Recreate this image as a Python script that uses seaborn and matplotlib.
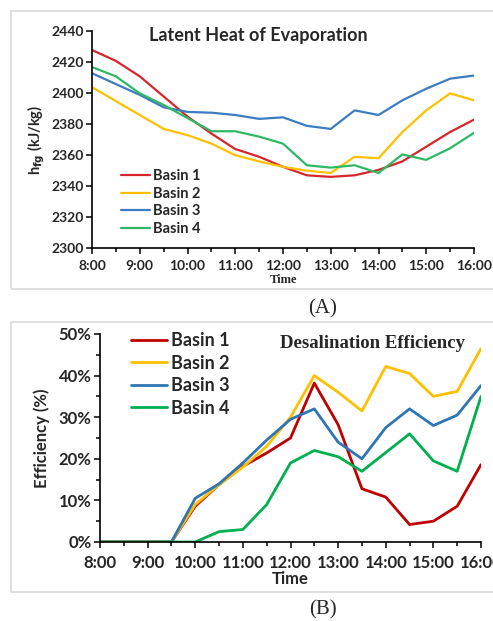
"""Latent heat of evaporation and desalination efficiency of four basins."""
import matplotlib
matplotlib.use("Agg")
import matplotlib.pyplot as plt
import matplotlib.ticker as mticker
from matplotlib.patches import Rectangle
import pandas as pd
import seaborn as sns

# half-hour readings, 8:00 .. 16:00
hours = [8 + 0.5 * i for i in range(17)]
basins = ["Basin 1", "Basin 2", "Basin 3", "Basin 4"]

hfg_b1 = [2428, 2421, 2411, 2398, 2385, 2374, 2364, 2359, 2352.5, 2347, 2346, 2347, 2350.5, 2356, 2365.5, 2375, 2383]
hfg_b2 = [2404, 2395, 2386, 2377, 2373, 2367.5, 2360, 2356, 2352.5, 2350, 2348.5, 2359, 2358, 2375, 2389, 2400, 2395.5]
hfg_b3 = [2413, 2406, 2399, 2391, 2388, 2387.5, 2386, 2383.5, 2384.5, 2379, 2377, 2389, 2386, 2395.5, 2403, 2409.5, 2411.5]
hfg_b4 = [2417, 2411, 2400, 2392.5, 2384, 2375.5, 2375.5, 2372, 2367.5, 2353.5, 2352, 2353.5, 2348.5, 2360.5, 2357, 2364.5, 2374.5]

eff_b1 = [0, 0, 0, 0, 8.6, 13.8, 18.2, 21.4, 25, 38.2, 28.2, 12.8, 10.8, 4.2, 5, 8.6, 18.6]
eff_b2 = [0, 0, 0, 0, 9, 13.8, 18, 23, 30, 40, 36, 31.5, 42.2, 40.5, 35, 36.2, 46.5]
eff_b3 = [0, 0, 0, 0, 10.5, 14, 19, 24.5, 29.5, 32, 24, 20, 27.5, 32, 28, 30.5, 37.6]
eff_b4 = [0, 0, 0, 0, 0, 2.5, 3, 9, 19, 22, 20.5, 17, 21.5, 26, 19.5, 17, 35]

hour_ticks = list(range(8, 17))
hour_labels = [f"{h}:00" for h in hour_ticks]

sns.set_theme(style="ticks")
plt.rcParams["font.family"] = ["Lato", "DejaVu Sans"]


def _long(series):
    rows = []
    for name, vals in zip(basins, series):
        rows += [{"hour": h, "value": v, "basin": name} for h, v in zip(hours, vals)]
    return pd.DataFrame(rows)


def _style_axes(ax, tick_size):
    sns.despine(ax=ax)
    for s in ("left", "bottom"):
        ax.spines[s].set_color("black")
        ax.spines[s].set_linewidth(1.2)
    ax.set_xlim(8, 16)
    ax.set_xticks(hour_ticks)
    ax.set_xticklabels(hour_labels)
    ax.xaxis.set_minor_locator(mticker.MultipleLocator(0.5))
    ax.tick_params(axis="both", which="both", direction="out", color="black", width=1.1)
    ax.tick_params(axis="both", which="major", length=4, labelsize=tick_size, pad=2)
    ax.tick_params(axis="x", which="major", pad=5)
    ax.tick_params(axis="both", which="minor", length=3)
    for lab in ax.get_xticklabels() + ax.get_yticklabels():
        lab.set_fontweight("bold")
    ax.set_facecolor("white")
    ax.grid(False)


fig = plt.figure(figsize=(4.93, 6.21), dpi=100)
W, H = 493, 621

# panel frames
for y0, y1 in ((11, 289), (322, 592)):
    fig.patches.append(Rectangle((11 / W, 1 - y1 / H), (W - 10) / W, (y1 - y0) / H,
                                 transform=fig.transFigure, fill=False,
                                 edgecolor="#d9d9d9", linewidth=1.2))

# (A) latent heat
ax1 = fig.add_axes([92 / W, 1 - 248 / H, 382 / W, 216.5 / H])
pal_a = ["#d7262b", "#ffc000", "#3d7cc0", "#2db964"]
sns.lineplot(data=_long([hfg_b1, hfg_b2, hfg_b3, hfg_b4]), x="hour", y="value",
             hue="basin", palette=pal_a, linewidth=1.6, ax=ax1)
ax1.set_ylim(2300, 2440)
ax1.yaxis.set_major_locator(mticker.MultipleLocator(20))
_style_axes(ax1, 10)
ax1.set_xlabel("Time", family="Liberation Serif", fontweight="bold", fontsize=9, labelpad=1)
ax1.set_ylabel(r"h$_{\mathbf{fg}}$ (kJ/kg)", fontweight="bold", fontsize=10.5, labelpad=3)
ax1.text((258 - 92) / 382, 0.98, "Latent Heat of Evaporation", transform=ax1.transAxes,
         ha="center", va="center", fontsize=13, fontweight="bold")
ax1.legend(loc="upper left", bbox_to_anchor=(108 / W, 1 - 156 / H),
           bbox_transform=fig.transFigure, frameon=False,
           handlelength=2.0, handletextpad=0.2, labelspacing=0.25,
           prop={"weight": "bold", "size": 10.5})
fig.text(323 / W, 1 - 309 / H, "(A)", family="Liberation Serif", fontsize=15,
         ha="center", va="center")

# (B) desalination efficiency
ax2 = fig.add_axes([100 / W, 1 - 542 / H, 381 / W, 208 / H])
pal_b = ["#c00000", "#ffc000", "#2e75b6", "#00b050"]
sns.lineplot(data=_long([eff_b1, eff_b2, eff_b3, eff_b4]), x="hour", y="value",
             hue="basin", palette=pal_b, linewidth=2.0, ax=ax2)
ax2.set_ylim(0, 50)
ax2.yaxis.set_major_locator(mticker.MultipleLocator(10))
ax2.yaxis.set_minor_locator(mticker.MultipleLocator(5))
ax2.yaxis.set_major_formatter(mticker.FuncFormatter(lambda v, _: f"{v:.0f}%"))
_style_axes(ax2, 12)
ax2.set_xlabel("Time", fontweight="bold", fontsize=12, labelpad=0)
ax2.set_ylabel("Efficiency (%)", fontweight="bold", fontsize=12, labelpad=6)
ax2.text((465 - 100) / 381, (542 - 343) / 208, "Desalination Efficiency", transform=ax2.transAxes,
         ha="right", va="center", family="Liberation Serif", fontsize=13.5,
         fontweight="bold")
ax2.legend(loc="upper left", bbox_to_anchor=(115 / W, 1 - 316 / H),
           bbox_transform=fig.transFigure, frameon=False,
           handlelength=2.0, handletextpad=0.2, labelspacing=0.3,
           prop={"weight": "bold", "size": 13})
fig.text(323 / W, 1 - 610 / H, "(B)", family="Liberation Serif", fontsize=15,
         ha="center", va="center")

fig.savefig("out.png", dpi=100, facecolor="white")
